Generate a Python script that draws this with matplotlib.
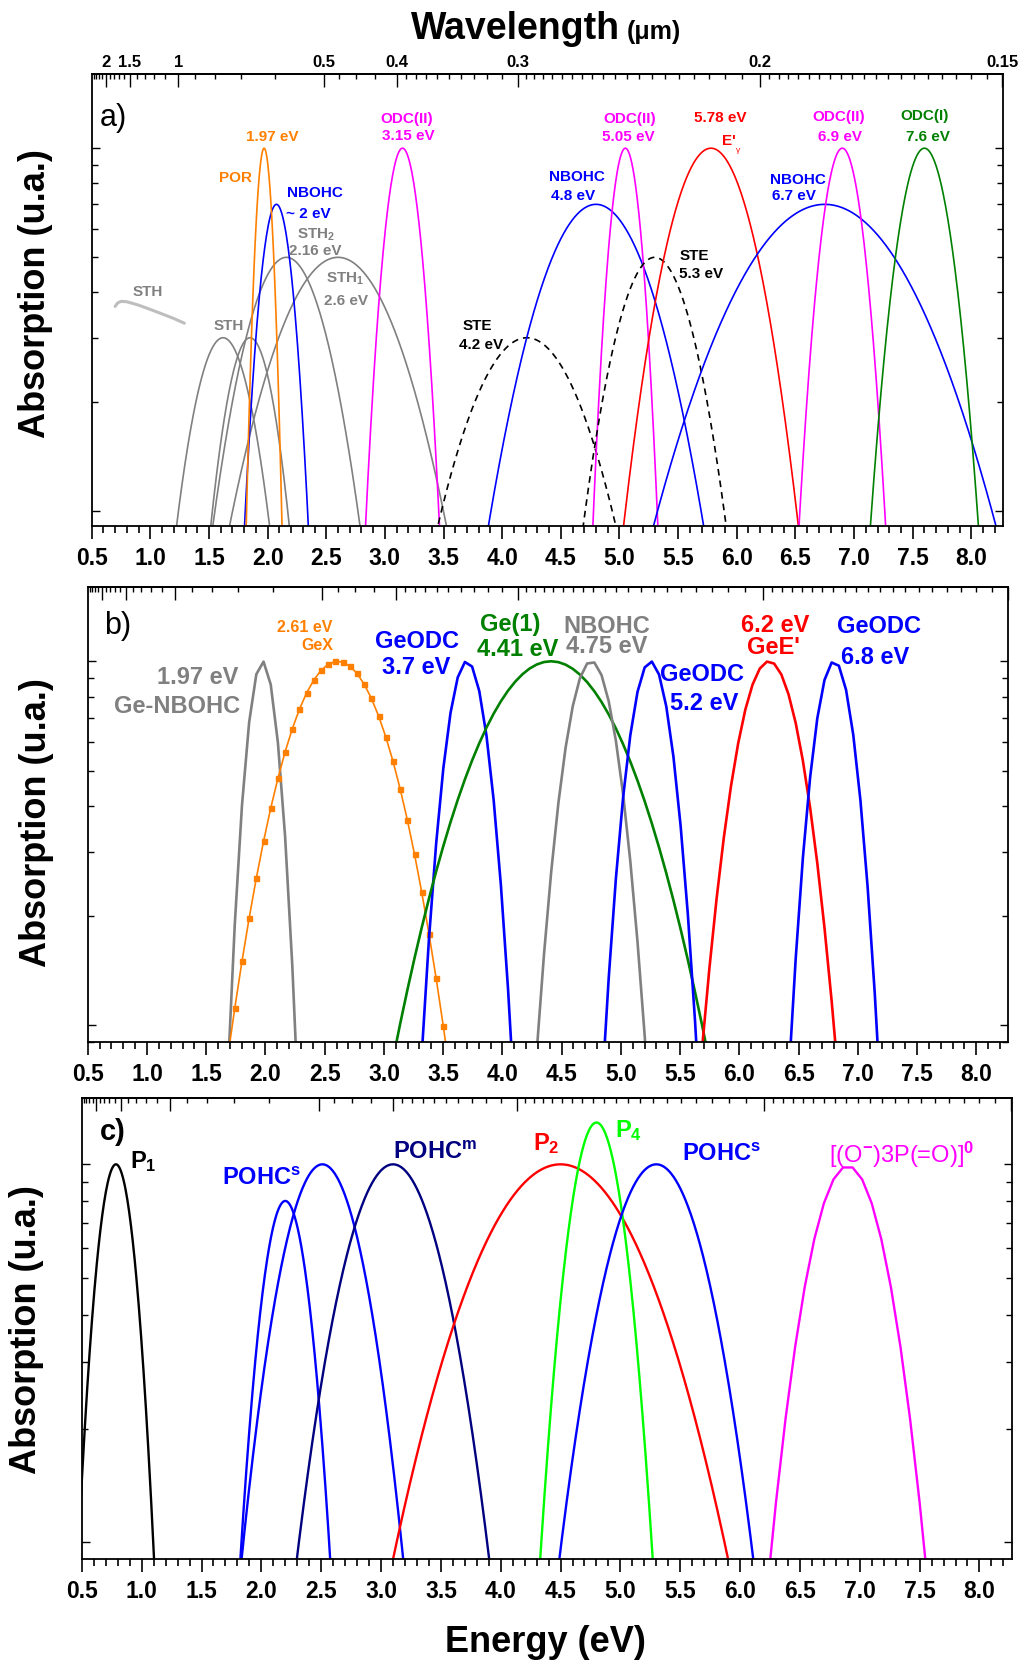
import numpy as np
import matplotlib
matplotlib.use("Agg")
import matplotlib.pyplot as plt
from matplotlib.ticker import LogLocator, NullFormatter, FixedLocator

plt.rcParams['font.family'] = ['Liberation Sans', 'DejaVu Sans']
plt.rcParams['font.weight'] = 'bold'
plt.rcParams['mathtext.fontset'] = 'custom'
plt.rcParams['mathtext.rm'] = 'Liberation Sans'
plt.rcParams['mathtext.bf'] = 'Liberation Sans:bold'
plt.rcParams['mathtext.it'] = 'Liberation Sans:italic'

HC = 1.2398   # eV.um

#################################################################################
#
#  Donnees : bandes gaussiennes (centre eV, largeur a mi-hauteur eV, hauteur u.a.)

# a) silice
a_centre  = [1.62, 1.85, 2.16, 2.60, 2.075, 1.97, 3.15, 4.21, 4.80, 5.05, 5.30, 5.78, 6.75, 6.90, 7.60]
a_fwhm    = [0.604, 0.510, 0.800, 1.179, 0.317, 0.164, 0.339, 1.156, 1.069, 0.298, 0.777, 0.801, 1.701, 0.397, 0.495]
a_hauteur = [3.0, 3.0, 5.0, 5.0, 7.0, 10.0, 10.0, 3.0, 7.0, 10.0, 5.0, 10.0, 7.0, 10.0, 10.0]

# bande STH large (trait gris clair), lue point par point
sth_E = [0.70, 0.72, 0.75, 0.80, 0.90, 1.00, 1.10, 1.20, 1.29]
sth_y = [3.66, 3.74, 3.78, 3.77, 3.69, 3.59, 3.49, 3.39, 3.29]

# b) germanium
b_centre  = [1.975, 2.61, 3.70, 4.41, 4.75, 5.25, 6.25, 6.80]
b_fwhm    = [0.302, 0.977, 0.402, 1.400, 0.488, 0.415, 0.601, 0.394]
b_hauteur = [10.0, 10.0, 10.0, 10.0, 10.0, 10.0, 10.0, 10.0]

# c) phosphore
c_centre  = [0.785, 2.20, 2.51, 3.10, 4.50, 4.80, 5.30, 6.90]
c_fwhm    = [0.342, 0.423, 0.725, 0.863, 1.503, 0.480, 0.870, 0.698]
c_hauteur = [10.0, 8.0, 10.0, 10.0, 10.0, 12.9, 10.0, 9.9]

# graduations
E_ticks  = [0.5, 1.0, 1.5, 2.0, 2.5, 3.0, 3.5, 4.0, 4.5, 5.0, 5.5, 6.0, 6.5, 7.0, 7.5, 8.0]
L_ticks  = [2, 1.5, 1, 0.5, 0.4, 0.3, 0.2, 0.15]
L_labels = ['2', '1.5', '1', '0.5', '0.4', '0.3', '0.2', '0.15']

#################################################################################
#
#  Styles

ORANGE, BLEU, GRIS, MAG, ROUGE, VERT = '#FF8000', '#0000FF', '#808080', '#FF00FF', '#FF0000', '#008000'

a_couleur = [GRIS, GRIS, GRIS, GRIS, BLEU, ORANGE, MAG, 'k', BLEU, MAG, 'k', ROUGE, BLEU, MAG, VERT]
a_trait   = ['-', '-', '-', '-', '-', '-', '-', (0, (4, 3)), '-', '-', (0, (4, 3)), '-', '-', '-', '-']

b_couleur = [GRIS, ORANGE, BLEU, VERT, GRIS, BLEU, ROUGE, BLEU]
b_marque  = [None, 's', None, None, None, None, None, None]

c_couleur = ['k', BLEU, BLEU, '#000080', ROUGE, '#00FF00', BLEU, MAG]
c_pas     = [0.005] * 7 + [0.08]

#################################################################################
#
#  Fonctions

def bande(E, centre, fwhm, haut):
    sig = fwhm / 2.3548
    return haut * np.exp(-(E - centre) ** 2 / (2 * sig ** 2))

def grille(centre, fwhm, pas, origine):
    sig = fwhm / 2.3548
    k0 = np.floor((centre - 4 * sig - origine) / pas)
    k1 = np.ceil((centre + 4 * sig - origine) / pas)
    return origine + pas * np.arange(k0, k1 + 1)

def e_vers_l(x):
    x = np.asarray(x, dtype=float)
    with np.errstate(divide='ignore', invalid='ignore'):
        return HC / x

def habille(ax, ymin, ymax, labels_haut):
    ax.set_xlim(0.5, 8.27)
    ax.set_yscale('log')
    ax.set_ylim(ymin, ymax)
    ax.set_xticks(E_ticks)
    ax.set_xticklabels(['%.1f' % e for e in E_ticks])
    ax.xaxis.set_minor_locator(FixedLocator(np.arange(0.5, 8.25, 0.1)))
    ax.tick_params(axis='x', which='both', direction='out', top=False, labelsize=16.5, pad=6, width=1.2)
    ax.tick_params(axis='x', which='major', length=9)
    ax.tick_params(axis='x', which='minor', length=5)
    ax.yaxis.set_major_locator(LogLocator(base=10))
    ax.yaxis.set_minor_locator(LogLocator(base=10, subs=range(2, 10)))
    ax.yaxis.set_major_formatter(NullFormatter())
    ax.yaxis.set_minor_formatter(NullFormatter())
    ax.tick_params(axis='y', which='both', direction='in', left=True, right=True, width=1.0)
    ax.tick_params(axis='y', which='major', length=6)
    ax.tick_params(axis='y', which='minor', length=4)
    for s in ax.spines.values():
        s.set_linewidth(1.3)
    # axe du haut en longueur d'onde
    sec = ax.secondary_xaxis('top', functions=(e_vers_l, e_vers_l))
    sec.set_xticks(L_ticks)
    sec.set_xticklabels(L_labels if labels_haut else [''] * len(L_ticks))
    mineurs = list(np.arange(2.4, 0.55, -0.1)) + [0.475, 0.45, 0.425] + \
        list(np.arange(0.39, 0.305, -0.01)) + list(np.arange(0.295, 0.2025, -0.005)) + \
        list(np.arange(0.1975, 0.151, -0.0025))
    mineurs = [m for m in mineurs if min(abs(m - t) for t in L_ticks) > 1e-4]
    sec.set_xticks(mineurs, minor=True)
    sec.tick_params(which='both', direction='in', labelsize=12, pad=3, width=1.0)
    sec.tick_params(which='major', length=9)
    sec.tick_params(which='minor', length=3.5)
    sec.spines['top'].set_linewidth(1.3)

def texte(ax, s, E, y, coul, taille, ha='center', va='center', poids='bold'):
    ax.text(E, y, s, color=coul, fontsize=taille, ha=ha, va=va, fontweight=poids)

#################################################################################
#
#  Figure

fig = plt.figure(figsize=(10.19, 16.60), dpi=100)
axA = fig.add_axes([0.0900, 0.6831, 0.8943, 0.2722])
axB = fig.add_axes([0.0861, 0.3722, 0.9034, 0.2740])
axC = fig.add_axes([0.0803, 0.0608, 0.9126, 0.2779])

# ---- a)
for i in range(len(a_centre)):
    E = grille(a_centre[i], a_fwhm[i], 0.005, 0.0)
    axA.plot(E, bande(E, a_centre[i], a_fwhm[i], a_hauteur[i]), color=a_couleur[i],
             linestyle=a_trait[i], lw=1.2)
axA.plot(sth_E, sth_y, color='#BEBEBE', lw=2.2, solid_capstyle='round')
habille(axA, 0.907, 16.0, True)

T = 11
texte(axA, 'a)', 0.571, 12.1, 'k', 22, ha='left', poids='normal')
texte(axA, '1.97 eV', 2.041, 10.75, ORANGE, T)
texte(axA, 'POR', 1.729, 8.30, ORANGE, T)
texte(axA, 'NBOHC', 2.401, 7.50, BLEU, T)
texte(axA, '~ 2 eV', 2.344, 6.57, BLEU, T)
texte(axA, 'STH$_2$', 2.416, 5.63, GRIS, T, va='baseline')
texte(axA, '2.16 eV', 2.410, 5.20, GRIS, T)
texte(axA, 'STH$_1$', 2.657, 4.27, GRIS, T, va='baseline')
texte(axA, '2.6 eV', 2.665, 3.80, GRIS, T)
texte(axA, 'STH', 0.977, 4.01, GRIS, T)
texte(axA, 'STH', 1.666, 3.23, GRIS, T)
texte(axA, 'ODC(II)', 3.182, 12.0, MAG, T)
texte(axA, '3.15 eV', 3.196, 10.78, MAG, T)
texte(axA, 'STE', 3.792, 3.23, 'k', T)
texte(axA, '4.2 eV', 3.821, 2.87, 'k', T)
texte(axA, 'ODC(II)', 5.083, 12.0, MAG, T)
texte(axA, '5.05 eV', 5.077, 10.75, MAG, T)
texte(axA, '5.78 eV', 5.855, 12.1, ROUGE, T)
texte(axA, "E'", 5.935, 10.46, ROUGE, T)
texte(axA, '\u03b3', 6.013, 9.84, ROUGE, 6, poids='normal')
texte(axA, 'NBOHC', 4.635, 8.34, BLEU, T)
texte(axA, '4.8 eV', 4.601, 7.39, BLEU, T)
texte(axA, 'NBOHC', 6.522, 8.15, BLEU, T)
texte(axA, '6.7 eV', 6.488, 7.36, BLEU, T)
texte(axA, 'STE', 5.637, 5.05, 'k', T)
texte(axA, '5.3 eV', 5.694, 4.50, 'k', T)
texte(axA, 'ODC(II)', 6.871, 12.2, MAG, T)
texte(axA, '6.9 eV', 6.877, 10.75, MAG, T)
texte(axA, 'ODC(I)', 7.598, 12.3, VERT, T)
texte(axA, '7.6 eV', 7.632, 10.75, VERT, T)

# ---- b)
for i in range(len(b_centre)):
    E = grille(b_centre[i], b_fwhm[i], 0.0607, 1.741)
    if b_marque[i]:
        axB.plot(E, bande(E, b_centre[i], b_fwhm[i], b_hauteur[i]), color=b_couleur[i],
                 lw=1.2, marker=b_marque[i], ms=3.6)
    else:
        axB.plot(E, bande(E, b_centre[i], b_fwhm[i], b_hauteur[i]), color=b_couleur[i], lw=1.9)
habille(axB, 0.900, 15.96, False)

T = 17
texte(axB, 'b)', 0.64, 12.5, 'k', 22, ha='left', poids='normal')
texte(axB, '2.61 eV', 2.328, 12.35, ORANGE, 11.5)
texte(axB, 'GeX', 2.438, 11.03, ORANGE, 11.5)
texte(axB, '1.97 eV', 1.428, 9.01, GRIS, T)
texte(axB, 'Ge-NBOHC', 1.251, 7.52, GRIS, T)
texte(axB, 'GeODC', 3.281, 11.32, BLEU, T)
texte(axB, '3.7 eV', 3.276, 9.62, BLEU, T)
texte(axB, 'Ge(1)', 4.065, 12.6, VERT, T)
texte(axB, '4.41 eV', 4.126, 10.8, VERT, T)
texte(axB, 'NBOHC', 4.880, 12.48, GRIS, T)
texte(axB, '4.75 eV', 4.880, 11.0, GRIS, T)
texte(axB, 'GeODC', 5.687, 9.21, BLEU, T)
texte(axB, '5.2 eV', 5.701, 7.65, BLEU, T)
texte(axB, '6.2 eV', 6.300, 12.5, ROUGE, T)
texte(axB, "GeE'", 6.286, 10.89, ROUGE, T)
texte(axB, 'GeODC', 7.178, 12.48, BLEU, T)
texte(axB, '6.8 eV', 7.150, 10.26, BLEU, T)

# ---- c)
for i in range(len(c_centre)):
    orig = 6.06 if c_pas[i] > 0.01 else 0.0
    E = grille(c_centre[i], c_fwhm[i], c_pas[i], orig)
    axC.plot(E, bande(E, c_centre[i], c_fwhm[i], c_hauteur[i]), color=c_couleur[i], lw=1.7)
habille(axC, 0.903, 15.0, False)

texte(axC, 'c)', 0.652, 12.2, 'k', 21, ha='left')
texte(axC, r'P$_{\mathbf{1}}$', 0.903, 9.8, 'k', T, ha='left', va='baseline')
texte(axC, r'POHC$^{\mathbf{s}}$', 1.668, 8.79, BLEU, T, ha='left', va='baseline')
texte(axC, r'POHC$^{\mathbf{m}}$', 3.100, 10.3, '#000080', T, ha='left', va='baseline')
texte(axC, r'P$_{\mathbf{2}}$', 4.269, 10.89, ROUGE, T, ha='left', va='baseline')
texte(axC, r'P$_{\mathbf{4}}$', 4.951, 11.79, '#00FF00', T, ha='left', va='baseline')
texte(axC, r'POHC$^{\mathbf{s}}$', 5.516, 10.18, BLEU, T, ha='left', va='baseline')
texte(axC, r'[(O$^{-}$)3P(=O)]$^{0}$', 6.745, 10.07, MAG, T, ha='left', va='baseline', poids='normal')

# ---- titres
W, H = 1019.0, 1660.0
for (x, y) in [(36, 294), (37, 823), (27, 1330)]:
    fig.text(x / W, 1 - y / H, 'Absorption (u.a.)', rotation=90, ha='center', va='center',
             fontsize=26, fontweight='bold')
fig.text(411 / W, 1 - 39 / H, 'Wavelength', fontsize=27, fontweight='bold', ha='left', va='baseline')
fig.text(627 / W, 1 - 39 / H, '(\u03bcm)', fontsize=18, fontweight='bold', ha='left', va='baseline')
fig.text(545 / W, 1 - 1652 / H, 'Energy (eV)', fontsize=26, fontweight='bold', ha='center', va='baseline')

fig.savefig('out.png', dpi=100)
